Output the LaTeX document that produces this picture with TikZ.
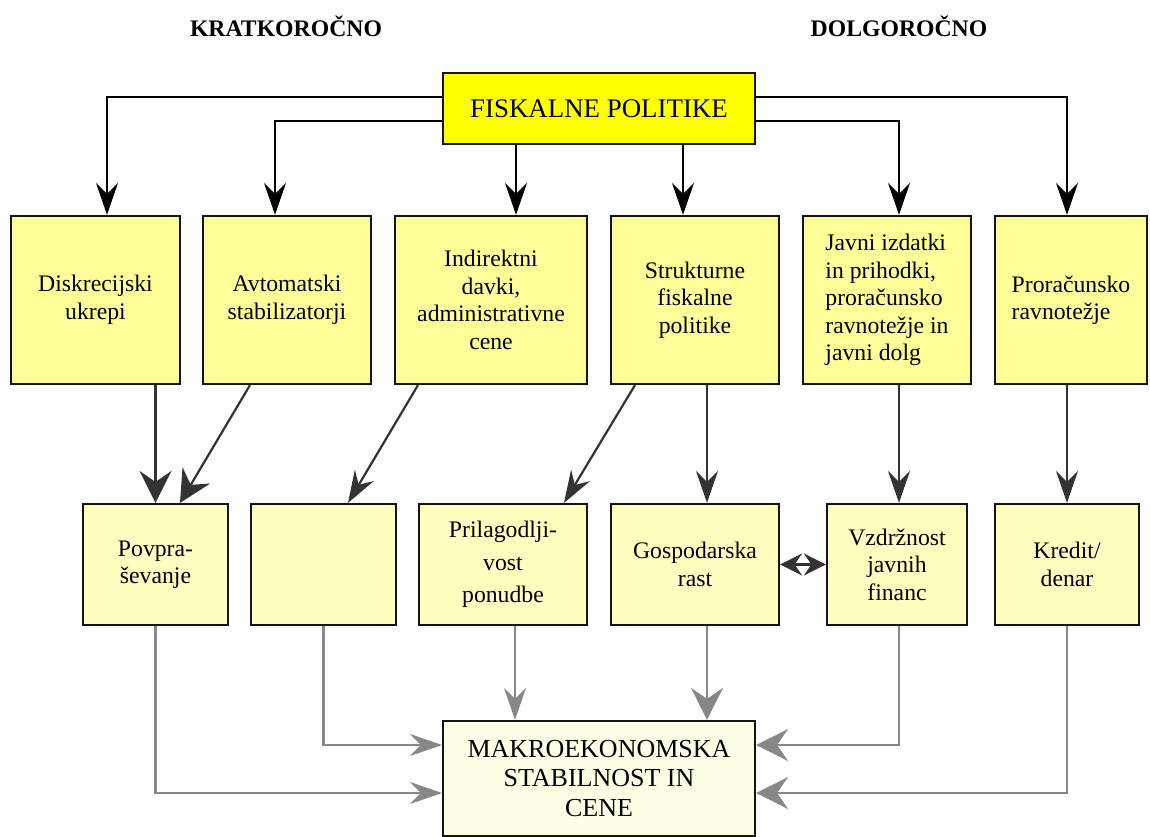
\documentclass[tikz,border=0pt]{standalone}
\usepackage{fontspec}
\setmainfont{Liberation Serif}
\usetikzlibrary{calc,positioning,arrows.meta}
\definecolor{ink}{gray}{0.08}
\definecolor{dark}{gray}{0.20}
\definecolor{soft}{gray}{0.53}
\definecolor{gold}{RGB}{255,255,0}
\definecolor{pale}{RGB}{255,255,153}
\definecolor{paler}{RGB}{255,255,192}
\definecolor{palest}{RGB}{255,255,229}

\begin{document}
\begin{tikzpicture}[x=0.02cm, y=-0.02cm, line width=1.25pt,
  font=\fontsize{13.5}{15.6}\selectfont,
  box/.style={draw=ink, inner sep=0pt, align=center},
  upper/.style={box, fill=pale, minimum height=3.36cm},
  lower/.style={box, fill=paler, minimum height=2.42cm},
  tip/.style={-{Stealth[length=0.64cm, width=0.44cm, inset=0.22cm]}},
  wide/.style={-{Stealth[length=0.64cm, width=0.64cm, inset=0.22cm]}}]
  \useasboundingbox (0,0) rectangle (1150,837);

  \node[font=\fontsize{13.5}{15.6}\selectfont\bfseries] (kratko) at (286,26) {KRATKOROČNO};
  \node[font=\fontsize{13.5}{15.6}\selectfont\bfseries] (dolgo) at (899,26) {DOLGOROČNO};

  \node[box, fill=gold, minimum width=6.24cm, minimum height=1.42cm,
        font=\fontsize{15.3}{17}\selectfont] (fp) at (599,108.5) {FISKALNE POLITIKE};

  \node[upper, minimum width=3.38cm] (disk) at (95.5,300) {Diskrecijski\\ukrepi};
  \node[upper, minimum width=3.36cm] (avto) at (287,300) {Avtomatski\\stabilizatorji};
  \node[upper, minimum width=3.84cm] (indi) at (491,300) {Indirektni\\davki,\\administrativne\\cene};
  \node[upper, minimum width=3.36cm] (strk) at (695,300) {Strukturne\\fiskalne\\politike};
  \node[upper, minimum width=3.36cm, align=left] (javni) at (887,300) {Javni izdatki\\in prihodki,\\proračunsko\\ravnotežje in\\javni dolg};
  \node[upper, minimum width=3.04cm, align=left] (prora) at (1071,300) {Proračunsko\\ravnotežje};

  \node[lower, minimum width=2.90cm] (povp) at (155.5,564.5) {Povpra-\\ševanje};
  \node[lower, minimum width=2.90cm] (empty) at (323.5,564.5) {};
  \node[lower, minimum width=3.36cm] (pril) at (503,564.5) {Prilagodlji-\\[3pt]vost\\[3pt]ponudbe};
  \node[lower, minimum width=3.36cm] (gosp) at (695,564.5) {Gospodarska\\rast};
  \node[lower, minimum width=2.80cm] (vzdr) at (897,564.5) {Vzdržnost\\javnih\\financ};
  \node[lower, minimum width=2.88cm] (kred) at (1067,564.5) {Kredit/\\denar};

  \node[box, fill=palest, minimum width=6.24cm, minimum height=2.30cm,
        font=\fontsize{14.8}{17}\selectfont] (mak) at (599,778.5) {MAKROEKONOMSKA\\STABILNOST IN\\CENE};

  \coordinate (s1) at ($(fp.south)+(-83,0)$);
  \coordinate (s2) at ($(fp.south)+(84,0)$);
  \draw[tip] ($(fp.west)+(0,-11.5)$) -| ($(disk.north)+(11.5,0)$);
  \draw[tip] ($(fp.west)+(0,12.5)$) -| ($(avto.north)+(-12,0)$);
  \draw[tip] (s1) -- (s1 |- indi.north);
  \draw[tip] (s2) -- (s2 |- strk.north);
  \draw[tip] ($(fp.east)+(0,12.5)$) -| ($(javni.north)+(12,0)$);
  \draw[tip] ($(fp.east)+(0,-11.5)$) -| ($(prora.north)+(-4,0)$);

  \draw[dark, wide] (disk.south -| povp.north) -- (povp.north);
  \draw[dark, wide] ($(avto.south)+(-37,0)$) -- ($(povp.north)+(24.5,0)$);
  \draw[dark, tip] ($(indi.south)+(-73,0)$) -- ($(empty.north)+(24.5,0)$);
  \draw[dark, tip] ($(strk.south)+(-60,0)$) -- ($(pril.north)+(61,0)$);
  \draw[dark, tip] ($(strk.south)+(12,0)$) -- ($(gosp.north)+(12,0)$);
  \draw[dark, tip] ($(javni.south)+(12,0)$) -- ($(vzdr.north)+(2,0)$);
  \draw[dark, tip] (prora.south -| kred.north) -- (kred.north);
  \draw[dark, {Stealth[length=0.44cm, width=0.44cm, inset=0.15cm]}-{Stealth[length=0.44cm, width=0.44cm, inset=0.15cm]}] (gosp.east) -- (vzdr.west);

  \draw[soft, tip] (povp.south) |- ($(mak.west)+(0,14.5)$);
  \draw[soft, tip] (empty.south) |- ($(mak.west)+(0,-33.5)$);
  \draw[soft, tip] ($(pril.south)+(12,0)$) -- ($(mak.north)+(-84,0)$);
  \draw[soft, wide] ($(gosp.south)+(12,0)$) -- ($(mak.north)+(108,0)$);
  \draw[soft, wide] ($(vzdr.south)+(2,0)$) |- ($(mak.east)+(0,-33.5)$);
  \draw[soft, wide] (kred.south) |- ($(mak.east)+(0,14.5)$);
\end{tikzpicture}
\end{document}
